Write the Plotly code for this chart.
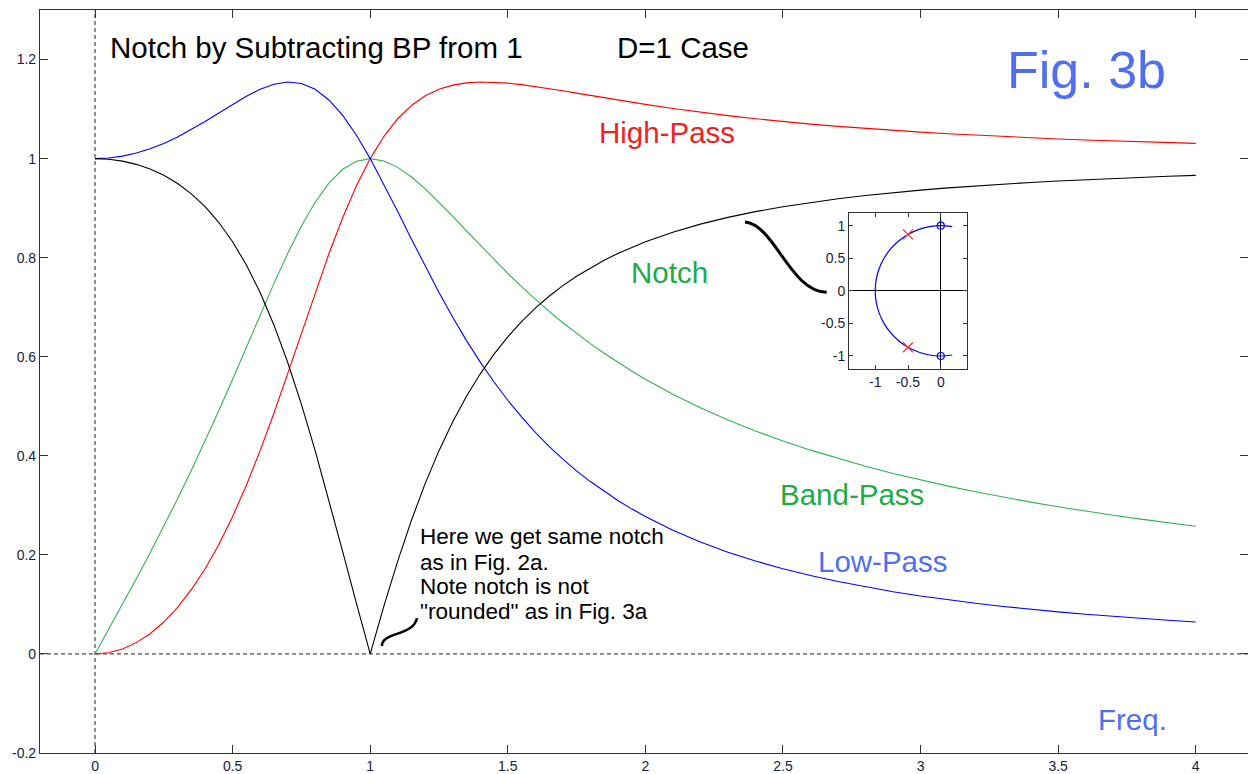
import plotly.graph_objects as go

# ---- data ----
freq = [0.0, 0.05, 0.1, 0.15, 0.2, 0.25, 0.3, 0.35, 0.4, 0.45, 0.5, 0.55, 0.6, 0.65, 0.7, 0.75, 0.8,
        0.85, 0.9, 0.95, 1.0, 1.05, 1.1, 1.15, 1.2, 1.25, 1.3, 1.35, 1.4, 1.45, 1.5, 1.55, 1.6, 1.65,
        1.7, 1.75, 1.8, 1.85, 1.9, 1.95, 2.0, 2.1, 2.2, 2.3, 2.4, 2.5, 2.6, 2.7, 2.8, 2.9, 3.0, 3.1,
        3.2, 3.3, 3.4, 3.5, 3.6, 3.7, 3.8, 3.9, 4.0]

low_pass = [1.0, 1.0012, 1.0050, 1.0112, 1.0198, 1.0307, 1.0437, 1.0585, 1.0748, 1.0921, 1.1094,
            1.1258, 1.1399, 1.1501, 1.1546, 1.1517, 1.1399, 1.1184, 1.0871, 1.0471, 1.0, 0.9479,
            0.8930, 0.8373, 0.7824, 0.7295, 0.6795, 0.6326, 0.5891, 0.5490, 0.5121, 0.4784, 0.4475,
            0.4192, 0.3934, 0.3697, 0.3480, 0.3281, 0.3098, 0.2929, 0.2774,
            0.2497, 0.2260, 0.2054, 0.1876, 0.1720, 0.1582, 0.1461, 0.1353, 0.1257, 0.1170, 0.1093,
            0.1023, 0.0959, 0.0901, 0.0849, 0.0801, 0.0757, 0.0716, 0.0679, 0.0644]

high_pass = [0.0, 0.0025, 0.0101, 0.0228, 0.0408, 0.0644, 0.0939, 0.1297, 0.1720, 0.2211, 0.2774,
             0.3406, 0.4104, 0.4859, 0.5658, 0.6478, 0.7295, 0.8080, 0.8806, 0.9450, 1.0, 1.0450,
             1.0805, 1.1073, 1.1267, 1.1399, 1.1483, 1.1529, 1.1546, 1.1542, 1.1523, 1.1493, 1.1456,
             1.1414, 1.1369, 1.1322, 1.1275, 1.1228, 1.1182, 1.1138, 1.1094,
             1.1012, 1.0936, 1.0868, 1.0805, 1.0748, 1.0697, 1.0650, 1.0608, 1.0569, 1.0534, 1.0502,
             1.0472, 1.0445, 1.0420, 1.0397, 1.0376, 1.0357, 1.0339, 1.0322, 1.0307]

band_pass = [0.0, 0.0501, 0.1005, 0.1517, 0.2040, 0.2577, 0.3131, 0.3705, 0.4299, 0.4914, 0.5547,
             0.6192, 0.6839, 0.7476, 0.8082, 0.8638, 0.9119, 0.9506, 0.9784, 0.9948, 1.0, 0.9953,
             0.9823, 0.9629, 0.9389, 0.9119, 0.8833, 0.8540, 0.8247, 0.7960, 0.7682, 0.7415, 0.7160,
             0.6917, 0.6687, 0.6470, 0.6264, 0.6069, 0.5885, 0.5712, 0.5547,
             0.5244, 0.4971, 0.4725, 0.4502, 0.4299, 0.4114, 0.3944, 0.3788, 0.3644, 0.3511, 0.3388,
             0.3273, 0.3165, 0.3065, 0.2971, 0.2882, 0.2799, 0.2721, 0.2647, 0.2577]

notch = [1.0, 0.9987, 0.9949, 0.9884, 0.9790, 0.9662, 0.9497, 0.9288, 0.9029, 0.8709, 0.8321,
         0.7852, 0.7295, 0.6642, 0.5889, 0.5039, 0.4104, 0.3104, 0.2066, 0.1021, 0.0, 0.0972,
         0.1875, 0.2700, 0.3443, 0.4104, 0.4688, 0.5203, 0.5655, 0.6053, 0.6402, 0.6709, 0.6981,
         0.7221, 0.7435, 0.7625, 0.7795, 0.7948, 0.8085, 0.8208, 0.8321,
         0.8515, 0.8677, 0.8813, 0.8929, 0.9029, 0.9114, 0.9189, 0.9255, 0.9312, 0.9363, 0.9409,
         0.9449, 0.9486, 0.9519, 0.9549, 0.9576, 0.9600, 0.9623, 0.9643, 0.9662]

main_xticks = [0, 0.5, 1, 1.5, 2, 2.5, 3, 3.5, 4]
main_xticklabels = ["0", "0.5", "1", "1.5", "2", "2.5", "3", "3.5", "4"]
main_yticks = [-0.2, 0, 0.2, 0.4, 0.6, 0.8, 1, 1.2]
main_yticklabels = ["-0.2", "0", "0.2", "0.4", "0.6", "0.8", "1", "1.2"]

# inset pole-zero plot
arc_re = [0.1736, 0.0, -0.1736, -0.3420, -0.5, -0.6428, -0.7660, -0.8660, -0.9397, -0.9848, -1.0,
          -0.9848, -0.9397, -0.8660, -0.7660, -0.6428, -0.5, -0.3420, -0.1736, 0.0, 0.1736]
arc_im = [0.9848, 1.0, 0.9848, 0.9397, 0.8660, 0.7660, 0.6428, 0.5, 0.3420, 0.1736, 0.0,
          -0.1736, -0.3420, -0.5, -0.6428, -0.7660, -0.8660, -0.9397, -0.9848, -1.0, -0.9848]
poles_re = [-0.5, -0.5]
poles_im = [0.866, -0.866]
zeros_re = [0.0, 0.0]
zeros_im = [1.0, -1.0]
inset_xticks = [-1, -0.5, 0]
inset_xticklabels = ["-1", "-0.5", "0"]
inset_yticks = [-1, -0.5, 0, 0.5, 1]
inset_yticklabels = ["-1", "-0.5", "0", "0.5", "1"]

FONT = "Arial, Liberation Sans, sans-serif"
RED_T = "#ee2222"
GREEN_T = "#22aa44"
BLUE_T = "#4f6ff0"
TICK_FONT = dict(family=FONT, size=14, color="#1a1a40")

fig = go.Figure()
fig.add_trace(go.Scatter(x=freq, y=high_pass, mode="lines", line=dict(color="#ff0000", width=1.1)))
fig.add_trace(go.Scatter(x=freq, y=band_pass, mode="lines", line=dict(color="#33b055", width=1.1)))
fig.add_trace(go.Scatter(x=freq, y=low_pass, mode="lines", line=dict(color="#0000ff", width=1.1)))
fig.add_trace(go.Scatter(x=freq, y=notch, mode="lines", line=dict(color="#000000", width=1.1)))

# inset
fig.add_trace(go.Scatter(x=arc_re, y=arc_im, mode="lines", line=dict(color="#0000ff", width=1.2, shape="spline"),
                         xaxis="x2", yaxis="y2"))
fig.add_trace(go.Scatter(x=poles_re, y=poles_im, mode="markers",
                         marker=dict(symbol="x-thin", size=10, line=dict(color="#ff3030", width=1.2)),
                         xaxis="x2", yaxis="y2"))
fig.add_trace(go.Scatter(x=zeros_re, y=zeros_im, mode="markers",
                         marker=dict(symbol="circle-open", size=7, color="#0000ff", line=dict(width=1.2)),
                         xaxis="x2", yaxis="y2"))

axis_common = dict(showline=True, linecolor="#333333", linewidth=1.2, mirror="ticks", ticks="inside",
                   showgrid=False, zeroline=False, tickcolor="#333333", tickfont=TICK_FONT)

inset_common = dict(showline=True, linecolor="#333333", linewidth=1, mirror="ticks", ticks="inside",
                    ticklen=4, showgrid=False, zeroline=True, zerolinecolor="#000000", zerolinewidth=1,
                    tickcolor="#333333", tickfont=TICK_FONT)

fig.update_layout(
    width=1248, height=774,
    margin=dict(l=40, r=0, t=10, b=21),
    paper_bgcolor="white", plot_bgcolor="white",
    showlegend=False,
    xaxis=dict(range=[-0.2, 4.19], tickvals=main_xticks, ticktext=main_xticklabels, ticklen=8,
               **axis_common),
    yaxis=dict(range=[-0.2, 1.3], tickvals=main_yticks, ticktext=main_yticklabels, ticklen=8,
               **axis_common),
    xaxis2=dict(domain=[0.6697, 0.7674], anchor="y2", range=[-1.4, 0.4], tickvals=inset_xticks,
                ticktext=inset_xticklabels, **inset_common),
    yaxis2=dict(domain=[0.5168, 0.7272], anchor="x2", range=[-1.2, 1.2], tickvals=inset_yticks,
                ticktext=inset_yticklabels, **inset_common),
)

# dashed zero lines
fig.add_shape(type="line", xref="x", yref="y", x0=0, x1=0, y0=-0.2, y1=1.3,
              line=dict(color="#222222", width=1, dash="4px,3px"), layer="below")
fig.add_shape(type="line", xref="x", yref="y", x0=-0.2, x1=4.19, y0=0, y1=0,
              line=dict(color="#222222", width=1, dash="4px,3px"), layer="below")

# connector curves
fig.add_shape(type="path", xref="x", yref="y",
              path="M 2.362,0.872 C 2.471,0.866 2.526,0.731 2.659,0.730",
              line=dict(color="#000000", width=3))
fig.add_shape(type="path", xref="x", yref="y",
              path="M 1.0429,0.016 C 1.0393,0.0443 1.1592,0.0362 1.1701,0.0725",
              line=dict(color="#000000", width=2.5))

def label(text, x, y, color, size, xanchor="left"):
    fig.add_annotation(text=text, x=x, y=y, xref="x", yref="y", xanchor=xanchor, yanchor="middle",
                       showarrow=False, font=dict(family=FONT, size=size, color=color))

label("Notch by Subtracting BP from 1", 0.047, 1.2233, "#000000", 29.5)
label("D=1 Case", 1.89, 1.2233, "#000000", 29.5)
label("Fig. 3b", 3.307, 1.179, BLUE_T, 52)
label("High-Pass", 1.824, 1.0517, RED_T, 29.5)
label("Notch", 1.941, 0.771, GREEN_T, 29.5)
label("Band-Pass", 2.482, 0.3209, GREEN_T, 29.5)
label("Low-Pass", 2.62, 0.1876, BLUE_T, 29.5)
label("Freq.", 3.638, -0.1314, BLUE_T, 29.5)

note_lines = ["Here we get same notch", "as in Fig. 2a.", "Note notch is not", "\"rounded\" as in Fig. 3a"]
note_y = [0.2361, 0.1856, 0.1352, 0.0847]
for t, yy in zip(note_lines, note_y):
    label(t, 1.174, yy, "#000000", 22.5)

fig.write_html("out.html")
